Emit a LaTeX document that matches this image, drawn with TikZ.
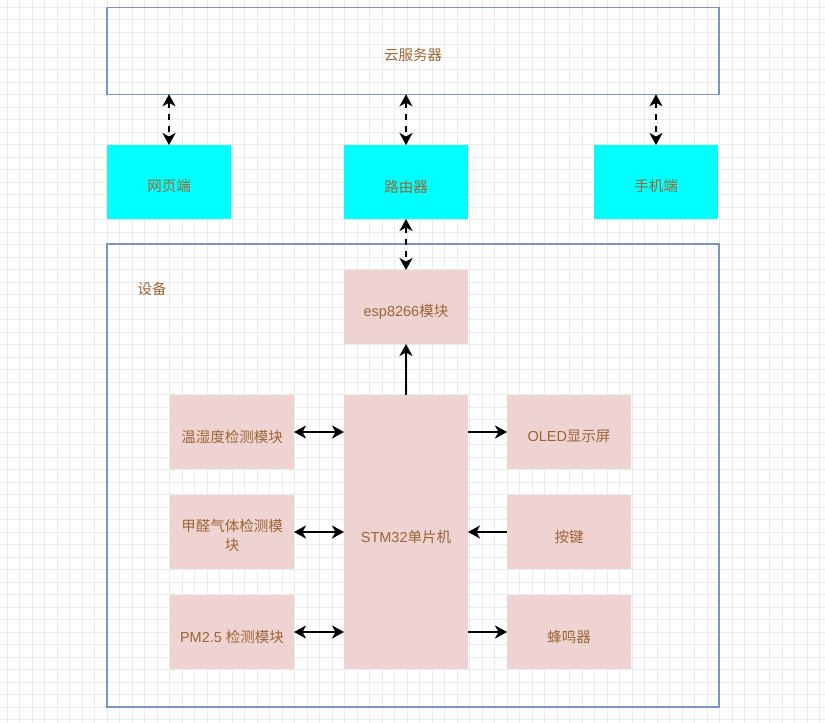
\documentclass[tikz,border=0pt]{standalone}
\usepackage{fontspec}
\setmainfont{Liberation Sans}
\newfontfamily\cjk{Noto Sans CJK SC}
\usetikzlibrary{arrows.meta}
\definecolor{gridc}{HTML}{EBEBEB}
\definecolor{blueline}{HTML}{7C94C4}
\definecolor{cyanfill}{HTML}{00FFFF}
\definecolor{pinkfill}{HTML}{EFD2D2}
\definecolor{txt}{HTML}{9A6634}
\newcommand\lowr[1]{\raisebox{-4.5pt}[\height][\depth]{#1}}
\tikzset{
  boxbase/.style={rectangle, inner sep=0pt, outer sep=0pt, text=txt,
    font=\fontsize{14.5}{18}\selectfont, align=center},
  bluebox/.style={boxbase, draw=blueline, line width=1.3pt},
  cyanbox/.style={boxbase, fill=cyanfill, minimum width=124pt, minimum height=74pt},
  pinkbox/.style={boxbase, fill=pinkfill, minimum width=124pt, minimum height=74pt},
  conn/.style={line width=2.4pt, black},
  onehead/.style={conn, -{Stealth[length=12pt,width=13pt,inset=3.5pt]}},
  twohead/.style={conn, {Stealth[length=12pt,width=13pt,inset=3.5pt]}-{Stealth[length=12pt,width=13pt,inset=3.5pt]}},
  dashtwo/.style={twohead, dash pattern=on 6pt off 6pt},
}
\begin{document}
\begin{tikzpicture}[x=1pt,y=-1pt]
\useasboundingbox (0,0) rectangle (825,723);
\fill[white] (0,0) rectangle (825,723);
% grid
\foreach \i in {0,...,65} {\draw[gridc, line width=1pt] (7.3+12.5*\i,0) -- (7.3+12.5*\i,723);}
\foreach \j in {0,...,57} {\draw[gridc, line width=1pt] (0,7.3+12.5*\j) -- (825,7.3+12.5*\j);}

% boxes
\node[bluebox, minimum width=612pt, minimum height=87pt] (cloud) at (413,50.8) {\lowr{\cjk 云服务器}};
\node[cyanbox] (web) at (169,182) {\lowr{\cjk 网页端}};
\node[cyanbox] (router) at (406,182) {\lowr{\cjk 路由器}};
\node[cyanbox] (phone) at (656,182) {\lowr{\cjk 手机端}};
\node[bluebox, minimum width=612pt, minimum height=463pt] (dev) at (413,475.5) {};
\node[boxbase] (devlabel) at (152,288.5) {\cjk 设备};

\node[pinkbox] (esp) at (406,307) {\lowr{esp8266{\cjk 模块}}};
\node[pinkbox, minimum height=274pt] (stm) at (406,532) {\lowr{STM32{\cjk 单片机}}};
\node[pinkbox] (th) at (232,432) {\lowr{\cjk 温湿度检测模块}};
\node[pinkbox, font=\cjk\fontsize{14.5}{19}\selectfont] (hcho) at (232,532) {\raisebox{-5.5pt}[\height][\depth]{\begin{tabular}{@{}c@{}}甲醛气体检测模\\块\end{tabular}}};
\node[pinkbox] (pm) at (232,632) {\lowr{PM2.5 {\cjk 检测模块}}};
\node[pinkbox] (oled) at (569,432) {\lowr{OLED{\cjk 显示屏}}};
\node[pinkbox] (key) at (569,532) {\lowr{\cjk 按键}};
\node[pinkbox] (buzz) at (569,632) {\lowr{\cjk 蜂鸣器}};

% connectors
\draw[dashtwo] (web.north |- cloud.south) -- (web.north);
\draw[dashtwo] (router.north |- cloud.south) -- (router.north);
\draw[dashtwo] (phone.north |- cloud.south) -- (phone.north);
\draw[dashtwo] (router.south) -- (esp.north);
\draw[onehead] (stm.north) -- (esp.south);
\draw[twohead] (th.east) -- (th.east -| stm.west);
\draw[twohead] (hcho.east) -- (hcho.east -| stm.west);
\draw[twohead] (pm.east) -- (pm.east -| stm.west);
\draw[onehead] (oled.west -| stm.east) -- (oled.west);
\draw[onehead] (key.west) -- (key.west -| stm.east);
\draw[onehead] (buzz.west -| stm.east) -- (buzz.west);
\end{tikzpicture}
\end{document}
